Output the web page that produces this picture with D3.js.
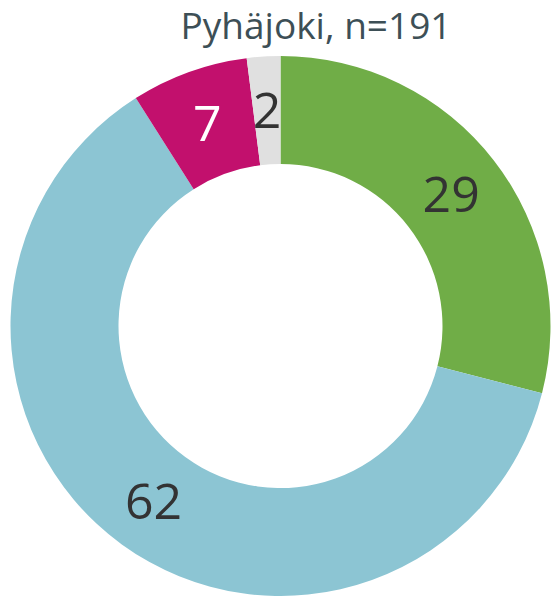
<!DOCTYPE html>
<html lang="fi">
<head>
<meta charset="utf-8">
<title>Pyhäjoki</title>
<script src="https://cdn.jsdelivr.net/npm/d3@7"></script>
<style>
  body { margin: 0; background: #fff; }
  text { font-family: "Open Sans", "Noto Sans", sans-serif; }
</style>
</head>
<body>
<div id="chart"></div>
<script>
var title = "Pyhäjoki, n=191";
var categories = ["A", "B", "C", "D"];
var values = [29, 62, 7, 2];
var colors = ["#70ad47", "#8cc5d3", "#c2106d", "#e0e0e0"];
var labelColors = ["#333333", "#333333", "#ffffff", "#333333"];

var width = 551, height = 596;
var cx = 280.5, cy = 326,
    outerR = 270, innerR = 162;

var svg = d3.select("#chart").append("svg")
    .attr("width", width)
    .attr("height", height);

var data = values.map(function(v, i) { return {name: categories[i], value: v, i: i}; });

var pie = d3.pie()
    .sort(null)
    .value(function(d) { return d.value; });

var arc = d3.arc()
    .innerRadius(innerR)
    .outerRadius(outerR);

var g = svg.append("g")
    .attr("transform", "translate(" + cx + "," + cy + ")");

var arcs = pie(data);

g.selectAll("path")
    .data(arcs)
  .enter().append("path")
    .attr("d", arc)
    .attr("fill", function(d) { return colors[d.data.i]; });

g.selectAll("text.label")
    .data(arcs)
  .enter().append("text")
    .attr("class", "label")
    .attr("transform", function(d) { return "translate(" + arc.centroid(d) + ")"; })
    .attr("text-anchor", "middle")
    .attr("dy", "0.36em")
    .style("font-size", "50px")
    .attr("fill", function(d) { return labelColors[d.data.i]; })
    .text(function(d) { return d.data.value; });

svg.append("text")
    .attr("x", 316)
    .attr("y", 39)
    .attr("text-anchor", "middle")
    .style("font-size", "37px")
    .attr("fill", "#3d4f56")
    .text(title);
</script>
</body>
</html>
